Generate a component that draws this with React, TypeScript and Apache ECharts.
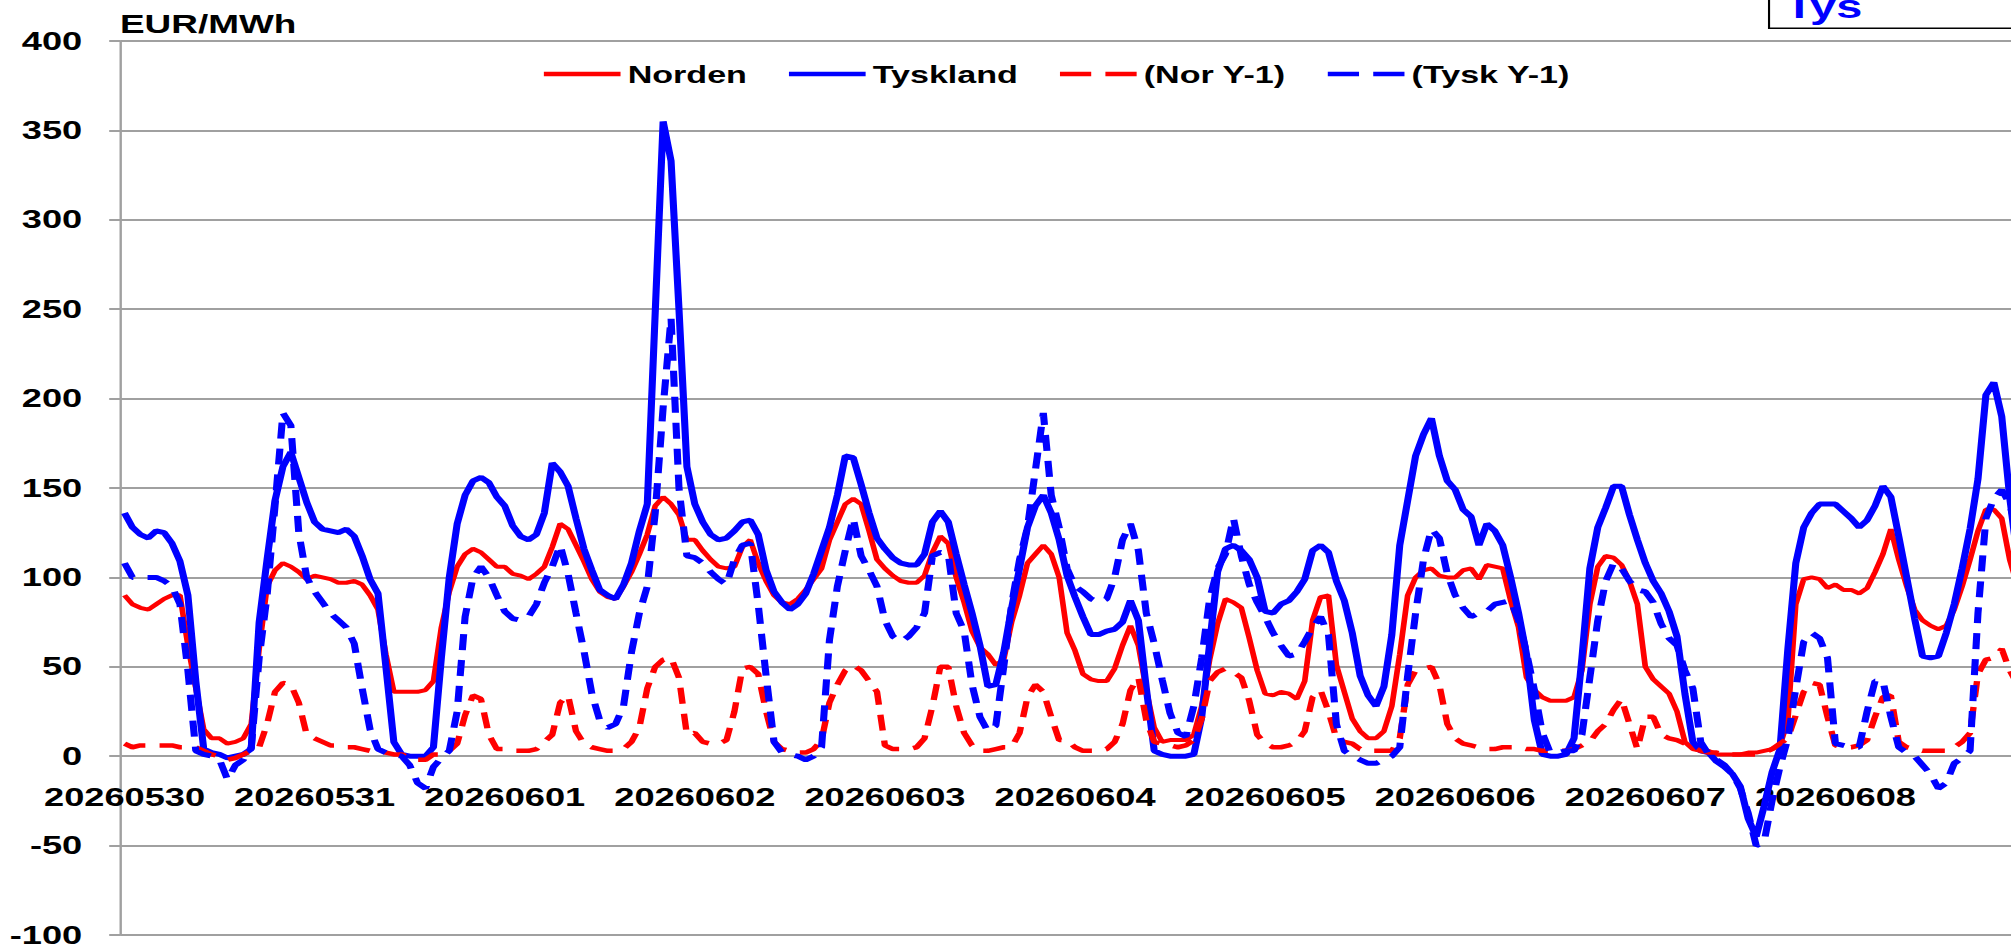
import React, { useEffect, useRef } from "react";
import * as echarts from "echarts";

// ---- data (hourly, EUR/MWh) ----
const days = [
  "20260530", "20260531", "20260601", "20260602", "20260603",
  "20260604", "20260605", "20260606", "20260607", "20260608",
];
const hours = Array.from({ length: 24 }, (_, h) => h);

const norden = [
  90, 85, 83, 82, 85, 88, 90, 90, 62, 38, 15, 10, 10, 7, 8, 10, 18, 60, 95, 104, 108, 106, 103, 99,
  101, 100, 99, 97, 97, 98, 96, 90, 82, 57, 36, 36, 36, 36, 37, 42, 72, 92, 106, 113, 116, 114, 110, 106,
  106, 102, 101, 99, 102, 106, 117, 130, 127, 118, 109, 99, 92, 89, 88, 95, 103, 113, 124, 140, 145, 141, 135, 121,
  121, 115, 110, 106, 105, 106, 117, 121, 108, 98, 90, 86, 85, 88, 93, 99, 105, 121, 131, 141, 144, 141, 126, 110,
  105, 101, 98, 97, 97, 101, 114, 123, 119, 100, 86, 70, 61, 57, 51, 54, 75, 90, 108, 113, 118, 113, 100, 69,
  59, 46, 43, 42, 42, 49, 62, 73, 62, 37, 16, 8, 9, 9, 9, 12, 28, 54, 74, 88, 86, 83, 66, 48,
  35, 34, 36, 35, 32, 42, 76, 89, 90, 51, 36, 21, 14, 10, 10, 14, 28, 57, 90, 100, 104, 105, 101, 100,
  100, 104, 105, 99, 107, 106, 105, 87, 72, 44, 37, 33, 31, 31, 31, 33, 48, 85, 106, 112, 111, 107, 98, 85,
  50, 43, 39, 35, 25, 8, 4, 3, 3, 1, 1, 1, 1, 2, 2, 3, 4, 6, 20, 85, 99, 100, 99, 94,
  96, 93, 93, 91, 94, 103, 113, 127, 110, 95, 82, 76, 73, 71, 73, 82, 95, 110, 126, 138, 138, 133, 110, 95,
];

const tyskland = [
  136, 128, 124, 122, 126, 125, 119, 109, 90, 42, 4, 2, 1, -1, 0, 1, 4, 75, 110, 143, 162, 170, 156, 142,
  131, 127, 126, 125, 127, 123, 112, 99, 91, 50, 8, 1, 0, 0, 0, 5, 55, 100, 130, 146, 154, 156, 153, 145,
  140, 129, 123, 121, 124, 136, 164, 159, 151, 133, 116, 104, 93, 90, 88, 96, 108, 126, 141, 248, 355, 333, 250, 162,
  141, 131, 124, 121, 122, 126, 131, 132, 124, 104, 92, 86, 82, 85, 91, 102, 115, 128, 146, 168, 167, 152, 136, 122,
  116, 111, 108, 107, 107, 113, 131, 137, 131, 113, 96, 80, 62, 39, 40, 58, 83, 105, 128, 140, 146, 136, 121, 101,
  89, 78, 68, 68, 70, 71, 75, 87, 76, 38, 3, 1, 0, 0, 0, 1, 22, 63, 103, 116, 118, 115, 110, 100,
  81, 80, 85, 87, 92, 99, 115, 118, 114, 98, 87, 69, 45, 34, 28, 39, 68, 118, 143, 168, 180, 189, 168, 154,
  149, 138, 134, 118, 130, 126, 118, 100, 80, 57, 20, 1, 0, 0, 1, 10, 55, 105, 128, 139, 151, 151, 135, 121,
  108, 98, 91, 81, 67, 35, 8, 3, 2, -3, -6, -10, -17, -35, -45, -28, -9, 4, 60, 108, 128, 136, 141, 141,
  141, 137, 133, 128, 132, 140, 151, 145, 123, 100, 77, 56, 55, 56, 69, 85, 105, 127, 155, 202, 209, 190, 145, 110,
];

const norY1 = [
  7, 5, 6, 6, 6, 6, 6, 5, 5, 5, 3, 1, 0, -2, -1, 1, 3, 5, 18, 36, 41, 40, 30, 12,
  10, 8, 6, 6, 5, 5, 4, 3, 2, 2, 1, 1, -1, -2, -2, 1, 1, 3, 7, 23, 34, 32, 12, 4,
  4, 3, 3, 3, 4, 8, 12, 30, 34, 14, 7, 5, 4, 3, 3, 4, 8, 16, 38, 50, 54, 55, 44, 12,
  13, 8, 7, 7, 9, 25, 49, 50, 46, 25, 8, 4, 3, 2, 2, 4, 9, 30, 40, 48, 51, 48, 42, 36,
  6, 4, 4, 4, 5, 10, 28, 50, 50, 28, 13, 6, 3, 3, 4, 5, 5, 13, 33, 40, 36, 22, 9, 9,
  5, 3, 3, 3, 4, 8, 18, 37, 44, 20, 8, 7, 6, 5, 6, 9, 21, 42, 47, 49, 47, 44, 31, 12,
  7, 5, 5, 6, 8, 14, 33, 37, 25, 10, 8, 7, 4, 3, 3, 3, 3, 10, 40, 48, 49, 50, 40, 18,
  10, 7, 6, 5, 4, 4, 5, 5, 5, 4, 4, 3, 3, 3, 3, 4, 6, 8, 14, 18, 26, 32, 18, 4,
  22, 22, 12, 10, 9, 7, 5, 3, 2, 2, 1, 1, 1, 1, 1, 2, 4, 7, 10, 23, 36, 41, 40, 22,
  6, 5, 5, 6, 9, 22, 33, 34, 8, 5, 4, 3, 3, 3, 3, 5, 8, 13, 46, 54, 55, 60, 48, 40,
];

const tyskY1 = [
  108, 100, 100, 100, 100, 98, 95, 85, 48, 3, 1, 0, -2, -13, -5, -2, 5, 55, 90, 140, 192, 185, 125, 100,
  92, 86, 80, 76, 72, 63, 38, 15, 4, 2, 1, 0, -5, -15, -18, -6, -1, 3, 25, 78, 100, 106, 100, 90,
  81, 77, 76, 78, 85, 97, 106, 118, 102, 80, 59, 35, 20, 16, 18, 28, 58, 80, 95, 136, 195, 245, 150, 112,
  111, 108, 103, 99, 96, 110, 118, 119, 85, 45, 8, 2, 1, 0, -2, 0, 5, 65, 95, 115, 133, 112, 104, 95,
  76, 67, 64, 67, 72, 80, 112, 114, 113, 80, 70, 40, 22, 14, 17, 50, 85, 110, 128, 160, 192, 146, 128, 105,
  95, 92, 88, 86, 88, 100, 121, 130, 115, 80, 63, 43, 24, 13, 11, 28, 55, 88, 105, 113, 133, 112, 96, 86,
  78, 69, 62, 56, 57, 64, 72, 78, 68, 18, 3, 0, -2, -4, -4, -2, 0, 5, 45, 80, 110, 127, 122, 102,
  90, 83, 78, 80, 81, 85, 86, 87, 76, 58, 37, 13, 2, 2, 3, 3, 12, 44, 76, 98, 108, 105, 98, 93,
  92, 86, 74, 66, 62, 48, 38, 8, 1, -2, -5, -10, -18, -32, -50, -48, -25, -6, 10, 38, 64, 69, 66, 55,
  7, 6, 5, 5, 25, 42, 42, 22, 5, 2, 0, -5, -10, -18, -15, -4, -1, 3, 80, 133, 144, 149, 141, 125,
];

const yTicks = { min: -100, max: 400, interval: 50 };
const unitLabel = "EUR/MWh";
const boxLabel = "Tys";

// ---- layout ----
const STRETCH = 1.42; // the reference is horizontally stretched
const INNER_W = 1500;
const GRID_TOP = 41;
const GRID_BOTTOM = 12;
const FONT = '"Liberation Sans", Arial, sans-serif';
const GRID = "#a0a0a0";
const RED = "#FF0000";
const BLUE = "#0000FF";

const SOLID_ICON = "path://M0,0h54v4.5h-54z";
const DASH_ICON = "path://M0,0h22v4.5h-22zM32,0h22v4.5h-22z";

export default function App() {
  const ref = useRef<HTMLDivElement>(null);

  useEffect(() => {
    if (!ref.current) return;
    const chart = echarts.init(ref.current, null, { renderer: "svg" });
    const cats = days.flatMap((d) => hours.map((h) => `${d} ${String(h).padStart(2, "0")}`));
    const plotH = 948 - GRID_TOP - GRID_BOTTOM;
    const zeroOffset = (plotH * (0 - yTicks.min)) / (yTicks.max - yTicks.min);

    chart.setOption({
      animation: false,
      backgroundColor: "#ffffff",
      textStyle: { fontFamily: FONT },
      grid: {
        left: 84.9,
        top: GRID_TOP,
        width: cats.length * 5.578,
        bottom: GRID_BOTTOM,
        containLabel: false,
      },
      legend: {
        left: 378,
        top: 57,
        itemWidth: 54,
        itemHeight: 4.5,
        itemGap: 29.6,
        selectedMode: false,
        itemStyle: { borderWidth: 0 },
        textStyle: { fontFamily: FONT, fontWeight: "bold", fontSize: 24, color: "#000" },
        data: [
          { name: "Norden", icon: SOLID_ICON },
          { name: "Tyskland", icon: SOLID_ICON },
          { name: "(Nor Y-1)", icon: DASH_ICON },
          { name: "(Tysk Y-1)", icon: DASH_ICON },
        ],
      },
      xAxis: {
        type: "category",
        data: cats,
        boundaryGap: true,
        position: "bottom",
        offset: -zeroOffset,
        axisLine: { onZero: false, lineStyle: { color: GRID, width: 2 } },
        axisTick: { interval: 23, length: 9, lineStyle: { color: GRID, width: 1.5 } },
        axisLabel: {
          interval: 23,
          margin: 28,
          fontSize: 25.5,
          fontWeight: "bold",
          color: "#000",
          fontFamily: FONT,
          formatter: (v: string) => v.slice(0, 8),
        },
        splitLine: { show: false },
      },
      yAxis: {
        type: "value",
        min: yTicks.min,
        max: yTicks.max,
        interval: yTicks.interval,
        axisLine: { show: true, lineStyle: { color: GRID, width: 1.7 } },
        axisTick: { show: true, length: 8, lineStyle: { color: GRID, width: 2 } },
        axisLabel: { margin: 27, fontSize: 25.5, fontWeight: "bold", color: "#000", fontFamily: FONT },
        splitLine: { show: true, lineStyle: { color: GRID, width: 2 } },
      },
      graphic: [
        {
          type: "text",
          x: 84.5,
          y: 24,
          style: {
            text: unitLabel,
            fill: "#000",
            font: `bold 26px ${FONT}`,
            align: "left",
            verticalAlign: "middle",
          },
        },
        {
          type: "rect",
          x: 1245.8,
          y: -40,
          shape: { x: 0, y: 0, width: 400, height: 68.3 },
          style: { fill: "#fff", stroke: "#000", lineWidth: 1.5 },
        },
        {
          type: "text",
          x: 1257,
          y: 6.5,
          style: {
            text: boxLabel,
            fill: BLUE,
            font: `bold 33px ${FONT}`,
            align: "left",
            verticalAlign: "middle",
          },
        },
      ],
      series: [
        {
          name: "Norden",
          type: "line",
          data: norden,
          symbol: "none",
          lineStyle: { color: RED, width: 4 },
          itemStyle: { color: RED },
        },
        {
          name: "Tyskland",
          type: "line",
          data: tyskland,
          symbol: "none",
          lineStyle: { color: BLUE, width: 5 },
          itemStyle: { color: BLUE },
        },
        {
          name: "(Nor Y-1)",
          type: "line",
          data: norY1,
          symbol: "none",
          lineStyle: { color: RED, width: 4.5, type: [16, 10] },
          itemStyle: { color: RED },
        },
        {
          name: "(Tysk Y-1)",
          type: "line",
          data: tyskY1,
          symbol: "none",
          lineStyle: { color: BLUE, width: 5, type: [16, 10] },
          itemStyle: { color: BLUE },
        },
      ],
    });

    return () => chart.dispose();
  }, []);

  return (
    <div
      style={{
        position: "fixed",
        left: 0,
        top: 0,
        width: 2011,
        height: 948,
        overflow: "hidden",
        background: "#fff",
      }}
    >
      <div
        ref={ref}
        style={{
          width: INNER_W,
          height: 948,
          transform: `scaleX(${STRETCH})`,
          transformOrigin: "0 0",
        }}
      />
    </div>
  );
}
